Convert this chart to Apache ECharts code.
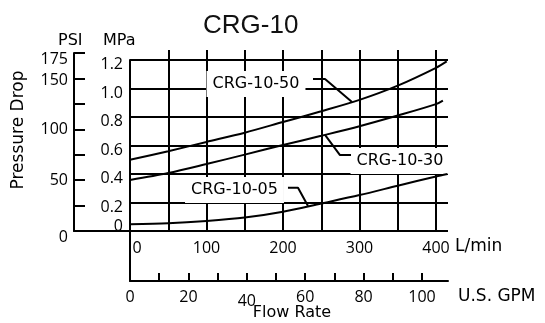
<!DOCTYPE html>
<html>
<head>
<meta charset="utf-8">
<script src="https://cdn.jsdelivr.net/npm/echarts@6/dist/echarts.min.js"></script>
<style>
  html, body { margin: 0; padding: 0; background: #fff; }
  #chart { width: 545px; height: 323px; }
</style>
</head>
<body>
<div id="chart"></div>
<script>
// Pressure drop vs. flow for the CRG-10 valve family (flow in L/min, drop in MPa)
const flow50 = [0, 50, 100, 150, 200, 250, 300, 350, 400, 414];
const drop50 = [0.50, 0.56, 0.625, 0.69, 0.765, 0.84, 0.92, 1.02, 1.145, 1.19];
const flow30 = [0, 50, 100, 150, 200, 250, 300, 350, 400, 409];
const drop30 = [0.358, 0.407, 0.47, 0.536, 0.603, 0.668, 0.735, 0.81, 0.89, 0.915];
const flow05 = [0, 50, 100, 150, 200, 250, 300, 350, 400, 415];
const drop05 = [0.047, 0.054, 0.07, 0.094, 0.135, 0.193, 0.252, 0.318, 0.383, 0.40];

// Curve names and where their callouts sit (L/min, MPa)
const curveNames = ['CRG-10-50', 'CRG-10-30', 'CRG-10-05'];
const calloutAt = [[164.7, 1.032], [352.9, 0.491], [136.6, 0.288]];
const leader50 = [[239.2, 1.067], [254.9, 1.067], [290.2, 0.905]];
const leader30 = [[254.9, 0.674], [274.5, 0.533], [288.9, 0.533]];
const leader05 = [[206.5, 0.304], [219.6, 0.304], [232.7, 0.175]];

// Axis tick values
const mpaTicks = [0, 0.2, 0.4, 0.6, 0.8, 1.0, 1.2];
const lpmLabels = [0, 100, 200, 300, 400];
const gpmTickValues = [10, 20, 30, 40, 50, 60, 70, 80, 90, 100];
const gpmLabels = [0, 20, 40, 60, 80, 100];
const psiTicks = [0, 25, 50, 75, 100, 125, 150, 175];
const psiLabels = [0, 50, 100, 150, 175];

const INK = '#000';
const TXT = '#000';
const NUM_FONT = 'Open Sans';
const LBL_FONT = 'DejaVu Sans';

const pairs = (xs, ys) => xs.map((x, i) => [x, ys[i]]);

const chart = echarts.init(document.getElementById('chart'), null, { renderer: 'canvas' });

const LPM_PX = 0.765;          // pixels per L/min
const GRID_LEFT = 130;
const GRID_W = 318;
const LPM_MAX = GRID_W / LPM_PX;
const GPM_PX = 2.92;           // pixels per US GPM

const hidden = { show: false };

chart.setOption({
  animation: false,
  backgroundColor: '#fff',
  title: {
    text: 'CRG-10',
    left: 198, top: 8,
    textStyle: { fontFamily: 'Liberation Sans', fontSize: 26, fontWeight: 'normal', color: '#111' }
  },
  grid: [
    // 0: data area (MPa vs L/min) with horizontal rules
    { left: GRID_LEFT, top: 60, width: GRID_W, height: 171 },
    // 1: vertical rules every 50 L/min, rising above the top rule
    { left: GRID_LEFT + 50 * LPM_PX, top: 50, width: 350 * LPM_PX, height: 181 },
    // 2: left frame line and US GPM scale below
    { left: GRID_LEFT, top: 60, width: GRID_W, height: 221 },
    // 3: PSI scale
    { left: 74, top: 53, width: 56, height: 178 }
  ],
  xAxis: [
    {
      gridIndex: 0, type: 'value', min: 0, max: LPM_MAX, interval: 100,
      axisLine: hidden, axisTick: hidden, splitLine: hidden,
      axisLabel: {
        showMaxLabel: false, margin: 9,
        fontFamily: NUM_FONT, fontSize: 16, color: TXT,
        formatter: v => (v === 0 ? '{z|0}' : (lpmLabels.includes(v) ? String(v) : '')),
        rich: { z: { fontFamily: NUM_FONT, fontSize: 16, color: TXT, padding: [0, 0, 0, 14] } }
      }
    },
    {
      gridIndex: 1, type: 'value', min: 50, max: 400, interval: 50,
      axisLine: hidden, axisTick: hidden, axisLabel: hidden,
      splitLine: { show: true, lineStyle: { color: INK, width: 2 } }
    },
    {
      gridIndex: 2, type: 'value', min: 0, max: GRID_W / GPM_PX,
      axisLine: { show: true, lineStyle: { color: INK, width: 2 } },
      axisTick: { show: true, inside: true, length: 8, customValues: gpmTickValues, lineStyle: { color: INK, width: 2 } },
      axisLabel: {
        show: true, customValues: gpmLabels, margin: 8,
        fontFamily: NUM_FONT, fontSize: 16, color: TXT,
        formatter: v => (v === 40 ? '{d|40}' : String(v)),
        rich: { d: { fontFamily: NUM_FONT, fontSize: 16, color: TXT, padding: [4, 0, 0, 0] } }
      },
      splitLine: hidden
    },
    {
      gridIndex: 3, type: 'value', min: 0, max: 1,
      axisLine: { show: true, lineStyle: { color: INK, width: 2 } },
      axisTick: hidden, axisLabel: hidden, splitLine: hidden
    }
  ],
  yAxis: [
    {
      gridIndex: 0, type: 'value', min: mpaTicks[0], max: mpaTicks[mpaTicks.length - 1], interval: 0.2,
      axisLine: hidden, axisTick: hidden,
      splitLine: { show: true, lineStyle: { color: INK, width: 2 } },
      axisLabel: {
        margin: 7, fontFamily: NUM_FONT, fontSize: 16, color: TXT,
        formatter: v => (v === 0 ? '{z|0}' : '{n|' + v.toFixed(1) + '}'),
        rich: {
          n: { fontFamily: NUM_FONT, fontSize: 16, color: TXT, padding: [9, 0, 0, 0] },
          z: { fontFamily: NUM_FONT, fontSize: 16, color: TXT, padding: [0, 0, 10, 0] }
        }
      }
    },
    {
      gridIndex: 1, type: 'value', min: 0, max: 1, show: false
    },
    {
      gridIndex: 2, type: 'value', min: 0, max: 1,
      axisLine: { show: true, lineStyle: { color: INK, width: 2 } },
      axisTick: hidden, axisLabel: hidden, splitLine: hidden
    },
    {
      gridIndex: 3, type: 'value', min: psiTicks[0], max: psiTicks[psiTicks.length - 1], interval: 25,
      axisLine: { show: true, lineStyle: { color: INK, width: 2 } },
      axisTick: { show: true, inside: true, length: 11, lineStyle: { color: INK, width: 2 } },
      splitLine: hidden,
      axisLabel: {
        margin: 6, fontFamily: NUM_FONT, fontSize: 16, color: TXT,
        formatter: v => {
          if (!psiLabels.includes(v)) return '';
          if (v === 0 || v === 175) return '{e|' + v + '}';
          if (v === 150) return '{m|' + v + '}';
          return String(v);
        },
        rich: {
          e: { fontFamily: NUM_FONT, fontSize: 16, color: TXT, padding: [12, 0, 0, 0] },
          m: { fontFamily: NUM_FONT, fontSize: 16, color: TXT, padding: [5, 0, 0, 0] }
        }
      }
    }
  ],
  graphic: [
    { type: 'text', left: 58, top: 33, style: { text: 'PSI', font: '16px "DejaVu Sans"', fill: TXT } },
    { type: 'text', left: 103, top: 33, style: { text: 'MPa', font: '16px "DejaVu Sans"', fill: TXT } },
    { type: 'text', x: 19, y: 130, rotation: Math.PI / 2,
      style: { text: 'Pressure Drop', font: '17px "DejaVu Sans"', fill: TXT, align: 'center', verticalAlign: 'middle' } },
    { type: 'text', left: 455, top: 238, style: { text: 'L/min', font: '17px "DejaVu Sans"', fill: TXT } },
    { type: 'text', left: 458, top: 288, style: { text: 'U.S. GPM', font: '17px "DejaVu Sans"', fill: TXT } },
    { type: 'text', x: 292, y: 313, style: { text: 'Flow Rate', font: '16px "DejaVu Sans"', fill: TXT, align: 'center', verticalAlign: 'middle' } }
  ],
  series: [
    {
      type: 'line', name: curveNames[0], xAxisIndex: 0, yAxisIndex: 0,
      data: pairs(flow50, drop50), smooth: 0.3, showSymbol: false, clip: false,
      lineStyle: { color: INK, width: 2 }, z: 4
    },
    {
      type: 'line', name: curveNames[1], xAxisIndex: 0, yAxisIndex: 0,
      data: pairs(flow30, drop30), smooth: 0.3, showSymbol: false, clip: false,
      lineStyle: { color: INK, width: 2 }, z: 4
    },
    {
      type: 'line', name: curveNames[2], xAxisIndex: 0, yAxisIndex: 0,
      data: pairs(flow05, drop05), smooth: 0.3, showSymbol: false, clip: false,
      lineStyle: { color: INK, width: 2 }, z: 4
    },
    // curve name callouts on a white ground
    {
      type: 'scatter', xAxisIndex: 0, yAxisIndex: 0, symbolSize: 0, z: 3,
      data: calloutAt.map((p, i) => ({ value: p, name: curveNames[i] })),
      itemStyle: { opacity: 1 },
      label: {
        show: true, position: 'inside', formatter: p => p.name,
        fontFamily: LBL_FONT, fontSize: 16, color: TXT, opacity: 1,
        textBorderWidth: 0, textBorderColor: 'transparent',
        backgroundColor: '#fff', padding: [5, 6]
      },
      emphasis: { disabled: true }
    },
    // leader lines from callouts to curves
    ...[leader50, leader30, leader05].map(pts => ({
      type: 'line', xAxisIndex: 0, yAxisIndex: 0, data: pts, showSymbol: false,
      lineStyle: { color: INK, width: 2 }, z: 5, clip: false
    }))
  ]
});
</script>
</body>
</html>
